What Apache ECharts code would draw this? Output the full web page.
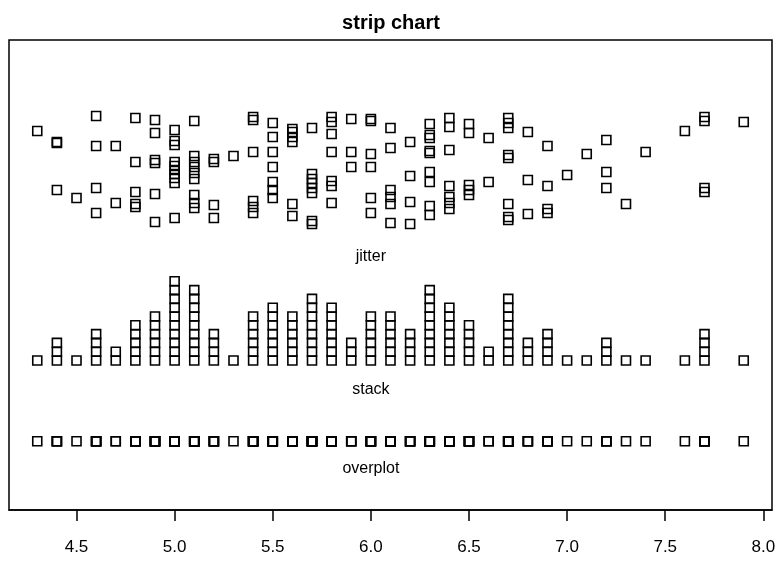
<!DOCTYPE html>
<html>
<head>
<meta charset="utf-8">
<script src="https://cdn.jsdelivr.net/npm/echarts@6/dist/echarts.min.js"></script>
<style>
  html, body { margin: 0; padding: 0; background: #fff; }
  #chart { width: 782px; height: 561px; }
</style>
</head>
<body>
<div id="chart"></div>
<script>
// distinct sepal lengths and how often each occurs
const lengths = [4.3, 4.4, 4.5, 4.6, 4.7, 4.8, 4.9, 5.0, 5.1, 5.2, 5.3, 5.4, 5.5, 5.6, 5.7, 5.8, 5.9,
  6.0, 6.1, 6.2, 6.3, 6.4, 6.5, 6.6, 6.7, 6.8, 6.9, 7.0, 7.1, 7.2, 7.3, 7.4, 7.6, 7.7, 7.9];
const counts = [1, 3, 1, 4, 2, 5, 6, 10, 9, 4, 1, 6, 7, 6, 8, 7, 3,
  6, 6, 4, 9, 7, 5, 2, 8, 3, 4, 1, 1, 3, 1, 1, 1, 4, 1];

// vertical position of each jittered point, one list per length
const jitterY = [
  [37.9],
  [36.8, 36.7, 32.0],
  [31.2],
  [39.4, 36.4, 32.2, 29.7],
  [36.4, 30.7],
  [39.2, 34.8, 31.8, 30.6, 30.3],
  [39.0, 37.7, 35.0, 34.7, 31.6, 28.8],
  [38.0, 36.9, 36.5, 34.8, 34.4, 34.0, 33.6, 33.2, 32.7, 29.2],
  [38.9, 35.4, 34.8, 34.3, 33.7, 33.1, 31.5, 30.7, 30.2],
  [35.1, 34.8, 30.5, 29.2],
  [35.4],
  [39.3, 39.0, 35.8, 30.9, 30.3, 29.7],
  [38.7, 37.3, 35.8, 34.3, 32.8, 32.0, 31.2],
  [38.1, 37.8, 37.3, 36.8, 30.6, 29.4],
  [38.2, 33.6, 33.1, 32.7, 32.2, 31.7, 28.9, 28.6],
  [39.3, 38.8, 37.6, 35.8, 32.9, 32.4, 30.7],
  [39.1, 35.8, 34.3],
  [39.1, 38.9, 35.6, 34.3, 31.2, 29.7],
  [38.2, 36.2, 32.0, 31.3, 30.6, 28.7],
  [36.8, 33.4, 30.8, 28.6],
  [38.6, 37.5, 37.2, 35.9, 35.7, 33.8, 32.8, 30.4, 29.5],
  [39.2, 38.3, 36.0, 32.4, 31.3, 30.7, 30.1],
  [38.6, 37.7, 32.5, 32.0, 31.5],
  [37.2, 32.8],
  [39.2, 38.7, 38.2, 35.5, 35.2, 30.6, 29.3, 29.0],
  [37.8, 33.0, 29.6],
  [36.4, 32.4, 30.1, 29.7],
  [33.5],
  [35.6],
  [37.0, 33.8, 32.2],
  [30.6],
  [35.8],
  [37.9],
  [39.3, 38.9, 32.2, 31.8],
  [38.8]
];

const tickValues = [4.5, 5.0, 5.5, 6.0, 6.5, 7.0, 7.5, 8.0];
const methodNames = ['jitter', 'stack', 'overplot'];
const methodLabelY = [25.3, 12.0, 4.1];

const overplotLevel = 6.87;
const stackLevel = 14.95;
const stackStep = 0.88;

const overplotData = [];
const stackData = [];
const jitterData = [];
lengths.forEach(function (v, i) {
  for (let k = 0; k < counts[i]; k++) {
    overplotData.push([v, overplotLevel]);
    stackData.push([v, stackLevel + k * stackStep]);
    jitterData.push([v, jitterY[i][k]]);
  }
});

const labelData = methodNames.map(function (n, i) { return [6.0, methodLabelY[i], n]; });

const boxStyle = {
  type: 'scatter',
  symbol: 'rect',
  symbolSize: 9,
  itemStyle: { color: 'rgba(0,0,0,0)', borderColor: '#000', borderWidth: 1.6, opacity: 1 },
  emphasis: { disabled: true },
  silent: true
};

const chart = echarts.init(document.getElementById('chart'));
chart.setOption({
  animation: false,
  title: {
    text: 'strip chart',
    left: 'center',
    top: 8,
    textStyle: { fontFamily: 'Liberation Sans', fontSize: 20, fontWeight: 'bold', color: '#000' }
  },
  grid: {
    left: 9, right: 10, top: 40, bottom: 51,
    show: true, borderColor: '#000', borderWidth: 1.5
  },
  xAxis: {
    type: 'value',
    min: 4.156,
    max: 8.044,
    axisLine: { show: true, lineStyle: { color: '#000', width: 1.5 } },
    axisTick: { show: true, length: 11, customValues: tickValues, lineStyle: { color: '#000', width: 1.5 } },
    axisLabel: {
      customValues: tickValues,
      margin: 29,
      fontFamily: 'Liberation Sans',
      fontSize: 17,
      color: '#000',
      formatter: function (v) { return v.toFixed(1); }
    },
    splitLine: { show: false }
  },
  yAxis: { type: 'value', min: 0, max: 47, show: false },
  series: [
    Object.assign({ data: jitterData }, boxStyle),
    Object.assign({ data: stackData }, boxStyle),
    Object.assign({ data: overplotData }, boxStyle),
    {
      type: 'scatter',
      data: labelData,
      symbolSize: 1,
      itemStyle: { color: 'rgba(0,0,0,0)', opacity: 1 },
      silent: true,
      label: {
        show: true,
        position: 'inside',
        fontFamily: 'Liberation Sans',
        fontSize: 16,
        color: '#000',
        textBorderWidth: 0,
        formatter: function (p) { return p.data[2]; }
      }
    }
  ]
});
</script>
</body>
</html>
